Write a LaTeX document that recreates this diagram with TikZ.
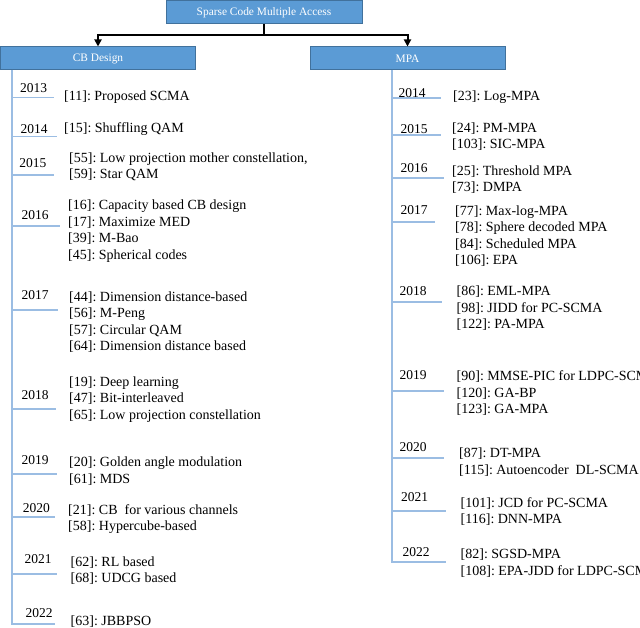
\documentclass[tikz,border=0pt]{standalone}
\usepackage{fontspec}
\setmainfont{Liberation Serif}
\usetikzlibrary{arrows.meta}
\definecolor{boxfill}{HTML}{5B9BD5}
\definecolor{boxdraw}{HTML}{41719C}
\definecolor{tline}{HTML}{9BBDE3}
\frenchspacing
\begin{document}
\begin{tikzpicture}[x=1pt,y=-1pt,
  box/.style={draw=boxdraw,fill=boxfill,line width=1pt,text=white,inner sep=0pt,
    minimum height=23pt,font=\fontsize{11.4}{13}\selectfont},
  tl/.style={draw=tline,line width=1.1pt},
  yr/.style={inner sep=0pt,font=\fontsize{13.5}{16.5}\selectfont},
  ent/.style={inner sep=0pt,anchor=west,align=left,font=\fontsize{14}{16.5}\selectfont},
  conn/.style={draw=black,line width=2pt,-{Triangle[length=7pt,width=7pt]}}]
\clip (0,0) rectangle (640,628);
\fill[white] (0,0) rectangle (640,628);
% boxes
\node[box,minimum width=196pt] (top) at (264,12.5) {Sparse Code Multiple Access};
\node[box,minimum width=195pt] (cb) at (98,58.5) {CB Design};
\node[box,minimum width=195pt] (mpa) at (407.5,58.5) {MPA};
\draw[conn] (top.south) -- ++(0,10.5) -| (cb.north);
\draw[conn] (top.south) -- ++(0,10.5) -| (mpa.north);
% timelines
\coordinate (lt) at (12,70); \coordinate (lb) at (12,624.5);
\coordinate (rt) at (392,70); \coordinate (rb) at (392,562.5);
\draw[tl] (lt) -- (lb);
\draw[tl] (rt) -- (rb);
\foreach \y/\e in {97.7/54,136.7/57,175/54,226/60,310/58,409/56,474/57,517/55,574/57,624/55}
  \draw[tl] (12,\y) -- (\e,\y);
\foreach \y/\e in {98/441,135/441,178/444,222/435,302/442,391/444,458/444,511/446,562/446}
  \draw[tl] (392,\y) -- (\e,\y);
% left years
\node[yr] (l13) at (33.5,88) {2013};
\node[yr] (l14) at (34,129) {2014};
\node[yr] (l15) at (33,163) {2015};
\node[yr] (l16) at (35,215) {2016};
\node[yr] (l17) at (35,295) {2017};
\node[yr] (l18) at (35,395) {2018};
\node[yr] (l19) at (35,460) {2019};
\node[yr] (l20) at (36.5,508) {2020};
\node[yr] (l21) at (38,559) {2021};
\node[yr] (l22) at (39,613) {2022};
% left entries
\node[ent] (e13) at (64,97) {[11]: Proposed SCMA};
\node[ent] (e14) at (64,129) {[15]: Shuffling QAM};
\node[ent] (e15) at (69,167) {[55]: Low projection mother constellation,\\\relax [59]: Star QAM};
\node[ent] (e16) at (68,231) {[16]: Capacity based CB design\\\relax [17]: Maximize MED\\\relax [39]: M-Bao\\\relax [45]: Spherical codes};
\node[ent] (e17) at (69,322) {[44]: Dimension distance-based\\\relax [56]: M-Peng\\\relax [57]: Circular QAM\\\relax [64]: Dimension distance based};
\node[ent] (e18) at (69,399.5) {[19]: Deep learning\\\relax [47]: Bit-interleaved\\\relax [65]: Low projection constellation};
\node[ent] (e19) at (69,471) {[20]: Golden angle modulation\\\relax [61]: MDS};
\node[ent] (e20) at (68,519) {[21]: CB\ \ for various channels\\\relax [58]: Hypercube-based};
\node[ent] (e21) at (70.5,570.5) {[62]: RL based\\\relax [68]: UDCG based};
\node[ent] (e22) at (70.5,622) {[63]: JBBPSO};
% right years
\node[yr] (r14) at (412,93) {2014};
\node[yr] (r15) at (414,129) {2015};
\node[yr] (r16) at (414,168) {2016};
\node[yr] (r17) at (414,210) {2017};
\node[yr] (r18) at (413,291) {2018};
\node[yr] (r19) at (413,375) {2019};
\node[yr] (r20) at (413,447) {2020};
\node[yr] (r21) at (414.5,497) {2021};
\node[yr] (r22) at (416,552) {2022};
% right entries
\node[ent] (f14) at (453,97) {[23]: Log-MPA};
\node[ent] (f15) at (452,136.5) {[24]: PM-MPA\\\relax [103]: SIC-MPA};
\node[ent] (f16) at (452,179.5) {[25]: Threshold MPA\\\relax [73]: DMPA};
\node[ent] (f17) at (455,236) {[77]: Max-log-MPA\\\relax [78]: Sphere decoded MPA\\\relax [84]: Scheduled MPA\\\relax [106]: EPA};
\node[ent] (f18) at (456.5,308.5) {[86]: EML-MPA\\\relax [98]: JIDD for PC-SCMA\\\relax [122]: PA-MPA};
\node[ent] (f19) at (456.5,393.5) {[90]: MMSE-PIC for LDPC-SCMA\\\relax [120]: GA-BP\\\relax [123]: GA-MPA};
\node[ent] (f20) at (459,462) {[87]: DT-MPA\\\relax [115]: Autoencoder\ \ DL-SCMA};
\node[ent] (f21) at (460.5,511.5) {[101]: JCD for PC-SCMA\\\relax [116]: DNN-MPA};
\node[ent] (f22) at (460.5,563) {[82]: SGSD-MPA\\\relax [108]: EPA-JDD for LDPC-SCMA};
\end{tikzpicture}
\end{document}
